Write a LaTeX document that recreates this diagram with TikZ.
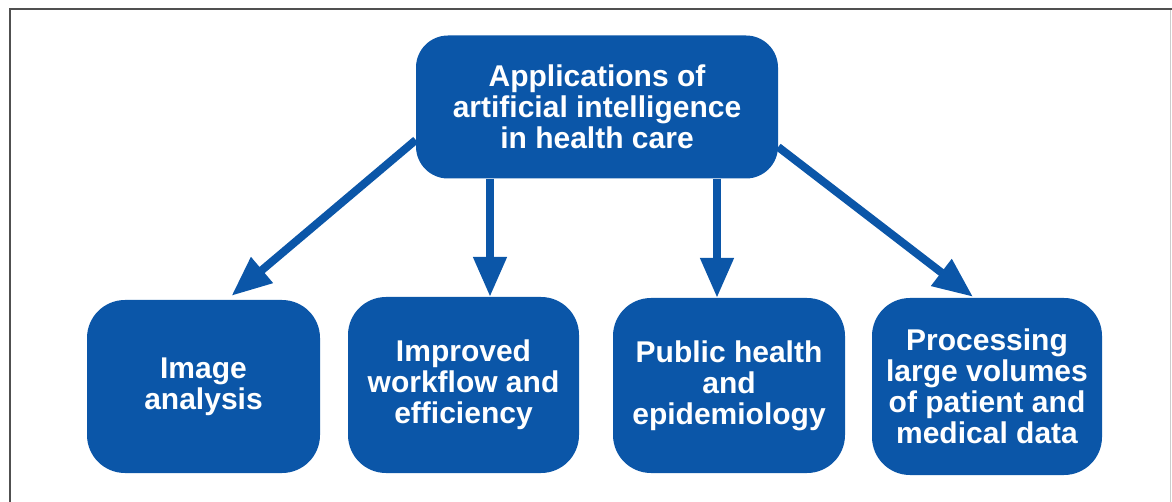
\documentclass[tikz,border=0pt]{standalone}
\usepackage{fontspec}
\setmainfont{Liberation Sans}
\usetikzlibrary{arrows.meta,calc}
\definecolor{aiblue}{RGB}{11,86,168}
\definecolor{framegray}{RGB}{80,80,80}
\tikzset{
  box/.style={fill=aiblue, text=white, rounded corners=38pt, align=center,
    font=\fontsize{30}{31}\selectfont\bfseries, inner sep=0pt},
  topbox/.style={box, rounded corners=32pt, minimum width=362pt, minimum height=143pt,
    font=\fontsize{30}{31}\selectfont\bfseries},
  botbox/.style={box, minimum width=232pt, minimum height=175pt},
  arr/.style={draw=aiblue, line width=8pt, -{Triangle[width=32pt,length=40pt]}}
}
\begin{document}
\begin{tikzpicture}[x=1pt,y=-1pt]
\useasboundingbox (0,0) rectangle (1172,502);
% frame
\draw[framegray, line width=2.5pt] (10,502) -- (10,9) -- (1172,9);
\draw[gray!40, line width=1pt] (1170,10) -- (1170,502);
% nodes
\node[topbox] (top) at (597,107) {Applications of\\artificial intelligence\\in health care};
\node[botbox, minimum width=233pt, minimum height=173pt] (b1) at (203.5,386.5) {Image\\analysis};
\node[botbox, minimum width=231pt, minimum height=176pt] (b2) at (463.5,385) {Improved\\workflow and\\efficiency};
\node[botbox, minimum width=232pt, minimum height=175pt] (b3) at (729,385.5) {Public health\\and\\epidemiology};
\node[botbox, minimum width=230pt, minimum height=177pt] (b4) at (987,386.5) {Processing\\large volumes\\of patient and\\medical data};
% connectors
\draw[arr] ([yshift=-33pt]top.west) -- ([xshift=28pt,yshift=4pt]b1.north);
\draw[arr] ([xshift=-107pt]top.south) -- ([xshift=-107pt]top.south |- b2.north);
\draw[arr] ([xshift=120pt]top.south) -- ([xshift=120pt]top.south |- b3.north);
\draw[arr] ([yshift=-40pt]top.east) -- ([xshift=-14pt,yshift=1pt]b4.north);
\end{tikzpicture}
\end{document}
